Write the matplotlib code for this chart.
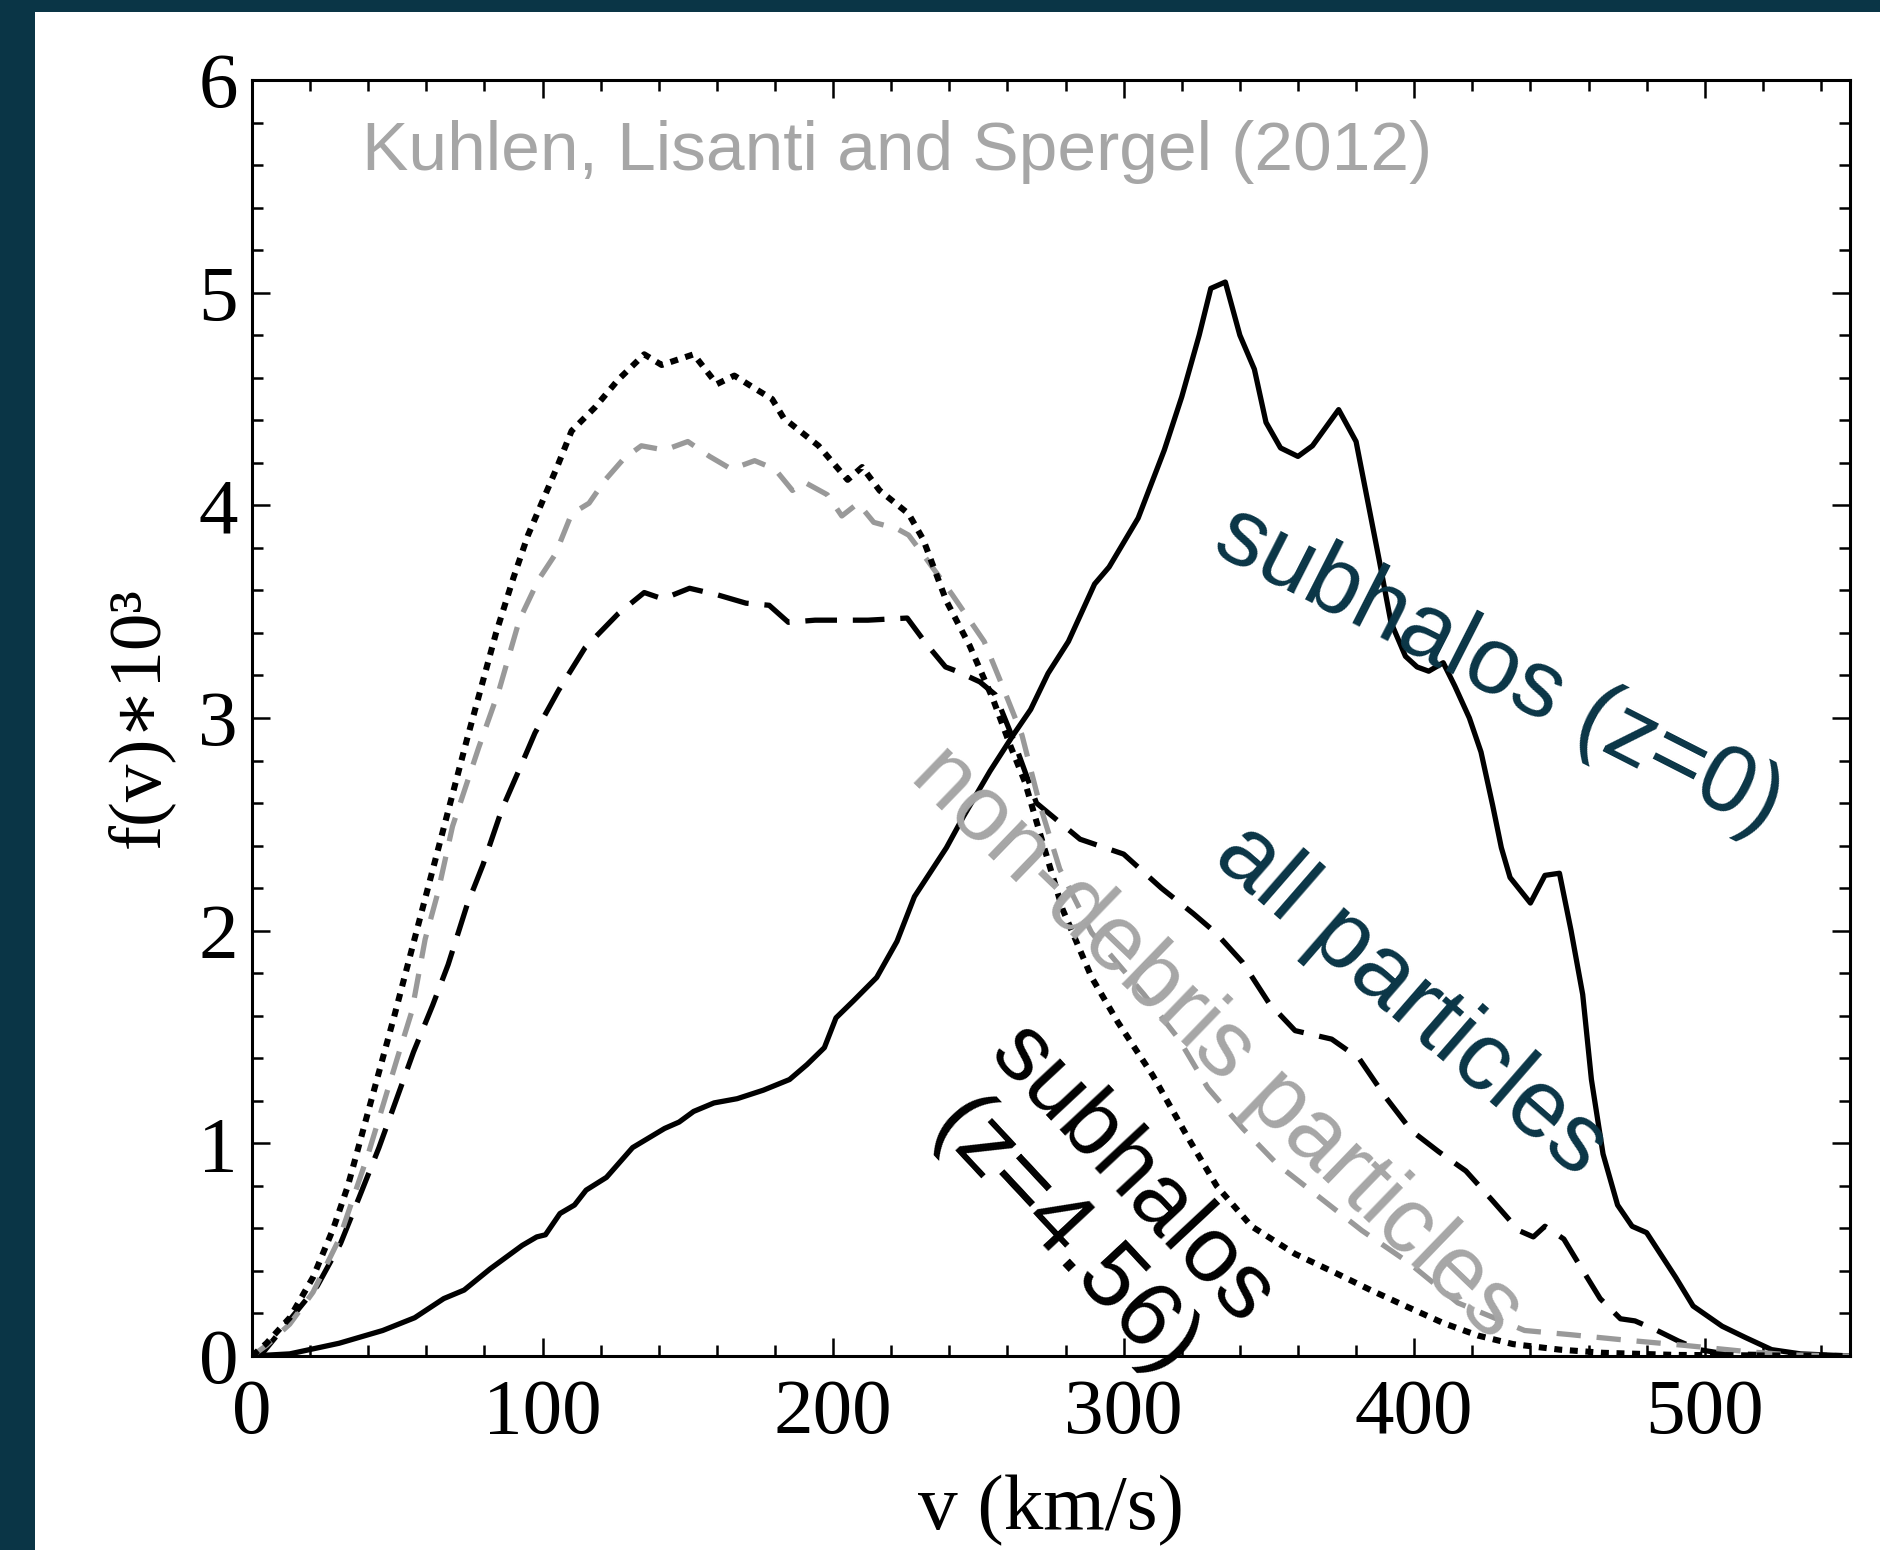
import matplotlib
matplotlib.use('Agg')
import matplotlib.pyplot as plt
from matplotlib.patches import Rectangle
from matplotlib.ticker import MultipleLocator

# subhalos (z=0), solid line
v_sub0 = [0, 13, 30, 45, 56, 66, 73, 82, 93, 98, 101, 106, 111, 115, 122, 131, 142, 147, 152, 159,
          167, 176, 185, 191, 197, 201, 207, 215, 222, 228, 239, 245, 254, 262, 268, 274, 281, 290,
          295, 305, 314, 320, 326, 330, 335, 340, 345, 349, 354, 360, 365, 374, 380, 384, 388, 392,
          397, 401, 405, 410, 414, 419, 423, 427, 430, 433, 440, 445, 450, 454, 458, 461, 465, 470,
          475, 480, 490, 496, 506, 514, 523, 533, 550]
f_sub0 = [0, 0.01, 0.06, 0.12, 0.18, 0.27, 0.31, 0.41, 0.52, 0.56, 0.57, 0.67, 0.71, 0.78, 0.84, 0.98,
          1.07, 1.10, 1.15, 1.19, 1.21, 1.25, 1.30, 1.37, 1.45, 1.59, 1.67, 1.78, 1.95, 2.16, 2.39,
          2.54, 2.75, 2.92, 3.04, 3.21, 3.36, 3.63, 3.71, 3.94, 4.26, 4.51, 4.80, 5.02, 5.05, 4.80,
          4.64, 4.39, 4.27, 4.23, 4.28, 4.45, 4.30, 4.02, 3.74, 3.45, 3.29, 3.24, 3.22, 3.26, 3.15,
          3.00, 2.84, 2.59, 2.39, 2.25, 2.13, 2.26, 2.27, 2.00, 1.70, 1.30, 0.95, 0.71, 0.61, 0.58,
          0.37, 0.235, 0.14, 0.087, 0.03, 0.01, 0]

# all particles, black dashed
v_all = [0, 4, 13, 22.5, 30.5, 37, 43.7, 49, 55.6, 62.2, 67.5, 74, 79.5, 86, 92.7, 97.4, 105.5, 114.6,
         126, 135, 141.4, 150.6, 160, 170, 178, 184.6, 193.8, 212, 225.5, 232, 238.7, 242.6, 250.5,
         255.8, 262, 270, 285, 300, 313, 324, 331.7, 341, 350, 359, 371.6, 381, 390, 399, 408.5,
         417.8, 427, 436, 441, 445, 451.5, 457.7, 464, 471, 476, 483.6, 491, 498, 507, 550]
f_all = [0, 0.02, 0.17, 0.33, 0.53, 0.75, 0.98, 1.18, 1.43, 1.65, 1.84, 2.12, 2.31, 2.57, 2.78, 2.93,
         3.13, 3.33, 3.49, 3.59, 3.56, 3.61, 3.58, 3.54, 3.53, 3.45, 3.46, 3.46, 3.47, 3.35, 3.24,
         3.22, 3.17, 3.11, 2.90, 2.60, 2.43, 2.36, 2.20, 2.08, 1.99, 1.85, 1.66, 1.53, 1.49, 1.40,
         1.22, 1.06, 0.96, 0.87, 0.73, 0.59, 0.56, 0.61, 0.55, 0.41, 0.27, 0.175, 0.165, 0.12, 0.07,
         0.03, 0.01, 0]

# non-debris particles, gray dashed
v_nondeb = [0, 5, 13, 21, 30, 40, 50, 55, 59.6, 64, 69, 78, 85, 92, 98.6, 104.4, 110, 116, 121.6, 128,
            134, 142, 150, 157.5, 165, 173, 180, 186, 190, 198, 203, 208.6, 214, 222, 226, 232, 241,
            252, 258, 265, 271, 278, 289, 307, 319, 329, 341, 353, 368, 382, 398, 415, 438, 454, 471,
            493, 515, 530, 550]
f_nondeb = [0, 0.05, 0.15, 0.30, 0.55, 0.95, 1.40, 1.62, 1.96, 2.18, 2.49, 2.86, 3.13, 3.46, 3.65,
            3.77, 3.96, 4.01, 4.12, 4.22, 4.28, 4.26, 4.30, 4.23, 4.17, 4.21, 4.17, 4.07, 4.11, 4.05,
            3.95, 4.01, 3.92, 3.89, 3.86, 3.75, 3.58, 3.36, 3.16, 2.92, 2.60, 2.29, 1.99, 1.70, 1.49,
            1.26, 1.07, 0.90, 0.74, 0.59, 0.44, 0.25, 0.12, 0.10, 0.077, 0.05, 0.02, 0.005, 0]

# subhalos (z=4.56), dotted
v_sub456 = [0, 5, 13, 21, 28, 33, 38, 44, 49, 54, 59, 64, 69, 74, 79, 84, 90, 95, 100, 105, 110, 118,
            126, 135, 141, 152, 160, 166, 173, 179, 183, 195, 205, 210, 216, 226, 231, 239, 247, 255,
            261, 266, 272, 279, 289, 298, 310, 322, 332, 344, 359, 373, 385, 397, 410, 422, 434, 450,
            465, 490, 550]
f_sub456 = [0, 0.06, 0.18, 0.37, 0.60, 0.80, 1.05, 1.35, 1.60, 1.86, 2.12, 2.38, 2.64, 2.90, 3.15,
            3.40, 3.66, 3.86, 4.02, 4.18, 4.35, 4.46, 4.59, 4.71, 4.66, 4.71, 4.57, 4.61, 4.55, 4.50,
            4.41, 4.28, 4.12, 4.18, 4.07, 3.96, 3.84, 3.55, 3.34, 3.09, 2.87, 2.70, 2.42, 2.10, 1.78,
            1.57, 1.32, 1.03, 0.80, 0.61, 0.48, 0.39, 0.31, 0.235, 0.155, 0.096, 0.056, 0.03, 0.015,
            0.005, 0]

x_ticks = [0, 100, 200, 300, 400, 500]
y_ticks = [0, 1, 2, 3, 4, 5, 6]

teal = '#0a3546'
serif = ['Liberation Serif', 'DejaVu Serif']
sans = ['Liberation Sans', 'DejaVu Sans']

fig = plt.figure(figsize=(18.8, 15.5), dpi=100, facecolor=teal)
# white slide area (dark band left and top)
fig.patches.append(Rectangle((35 / 1880, 0), 1 - 35 / 1880, 1538 / 1550, transform=fig.transFigure,
                             facecolor='white', edgecolor='none', zorder=-10))

ax = fig.add_axes([252 / 1880, 1 - 1356 / 1550, 1598 / 1880, 1276 / 1550])
ax.set_zorder(5)
ax.set_facecolor('white')

ax.plot(v_sub0, f_sub0, color='black', lw=3.8)
ax.plot(v_all, f_all, color='black', lw=3.8, dashes=(6, 3))
ax.plot(v_nondeb, f_nondeb, color='#999999', lw=3.8, dashes=(4.6, 3))
ax.plot(v_sub456, f_sub456, color='black', lw=4.4, dashes=(1.3, 1.25))

ax.set_xlim(0, 550)
ax.set_ylim(0, 6)
ax.set_xticks(x_ticks)
ax.set_yticks(y_ticks)
ax.xaxis.set_minor_locator(MultipleLocator(20))
ax.yaxis.set_minor_locator(MultipleLocator(0.2))
ax.tick_params(which='both', direction='in', top=True, right=True, width=1.8, colors='black')
ax.tick_params(which='major', length=13)
ax.tick_params(which='minor', length=8)
ax.tick_params(axis='x', which='major', pad=16)
ax.tick_params(axis='y', which='major', pad=10)
for s in ax.spines.values():
    s.set_linewidth(2.2)

for lab in ax.get_xticklabels() + ax.get_yticklabels():
    lab.set_family(serif)
    lab.set_fontsize(57)

ax.set_xlabel('v (km/s)', family=serif, fontsize=57, labelpad=18)
ax.set_ylabel('f(v)\u221710\u00b3', family=serif, fontsize=54, labelpad=18)

ax.text(38, 5.66, 'Kuhlen, Lisanti and Spergel (2012)', family=sans, fontsize=50,
        color='#a6a6a6', ha='left', va='center')
ax.text(429, 3.22, 'subhalos (z=0)', family=sans, fontsize=68, color=teal,
        rotation=-27, rotation_mode='anchor', ha='center', va='center')
ax.text(399, 1.67, 'all particles', family=sans, fontsize=70, color=teal,
        rotation=-41, rotation_mode='anchor', ha='center', va='center')
ax.text(332, 1.47, 'non-debris particles', family=sans, fontsize=67, color='#a6a6a6',
        rotation=-44, rotation_mode='anchor', ha='center', va='center')
ax.text(291, 0.70, 'subhalos\n(z=4.56)', family=sans, fontsize=67, color='black',
        rotation=-47, rotation_mode='anchor', ha='center', va='center', linespacing=1.1)

fig.savefig('out.png', dpi=100, facecolor=teal)
